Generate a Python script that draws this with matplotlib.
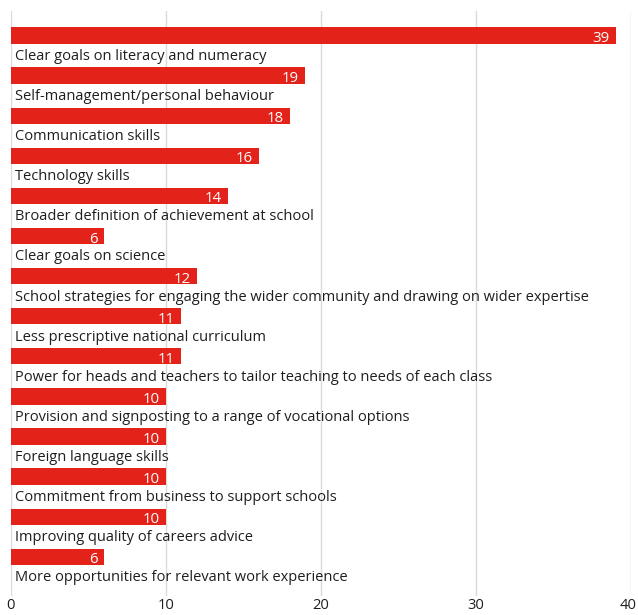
import matplotlib
matplotlib.use("Agg")
import matplotlib.pyplot as plt
import matplotlib.transforms as mtransforms

categories = [
    "Clear goals on literacy and numeracy",
    "Self-management/personal behaviour",
    "Communication skills",
    "Technology skills",
    "Broader definition of achievement at school",
    "Clear goals on science",
    "School strategies for engaging the wider community and drawing on wider expertise",
    "Less prescriptive national curriculum",
    "Power for heads and teachers to tailor teaching to needs of each class",
    "Provision and signposting to a range of vocational options",
    "Foreign language skills",
    "Commitment from business to support schools",
    "Improving quality of careers advice",
    "More opportunities for relevant work experience",
]
values = [39, 19, 18, 16, 14, 6, 12, 11, 11, 10, 10, 10, 10, 6]
xticks = [0, 10, 20, 30, 40]

RED = "#e3231a"
TEXT = "#1e1e1e"
GRID = "#dadada"
plt.rcParams['font.family'] = ['Open Sans', 'DejaVu Sans']

W, H = 638, 615
fig = plt.figure(figsize=(W / 100, H / 100), dpi=100)
left, right, top, bottom = 10.7, 631.3, 11, 596
ax = fig.add_axes([left / W, 1 - bottom / H, (right - left) / W, (bottom - top) / H])

n = len(categories)
pos = list(range(n))
ax.barh(pos, values, height=0.407, color=RED, zorder=2)

px_per_unit = (right - left) / 40
for i, (c, v) in enumerate(zip(categories, values)):
    ax.text(4.0 / px_per_unit, i + 0.611, c, ha="left", va="baseline",
            fontsize=10.5, color=TEXT, zorder=3)
    ax.text(v - 6.5 / px_per_unit, i + 0.164, str(v), ha="right", va="baseline",
            fontsize=10.8, color="white", zorder=3)

ax.set_xlim(0, 40)
ax.set_ylim(n - 1 + 0.978, -0.611)
ax.set_xticks(xticks)
ax.set_xticklabels([str(t) for t in xticks])
ax.set_yticks([])
ax.tick_params(axis="x", length=0, pad=1.5, labelsize=10.6, labelcolor=TEXT)
last = ax.get_xticklabels()[-1]
last.set_transform(last.get_transform() + mtransforms.ScaledTranslation(-3 / 100, 0, fig.dpi_scale_trans))
for t in xticks:
    ax.axvline(t, color=GRID, lw=1.0, zorder=1)
for s in ax.spines.values():
    s.set_visible(False)

fig.savefig("out.png", dpi=100)
